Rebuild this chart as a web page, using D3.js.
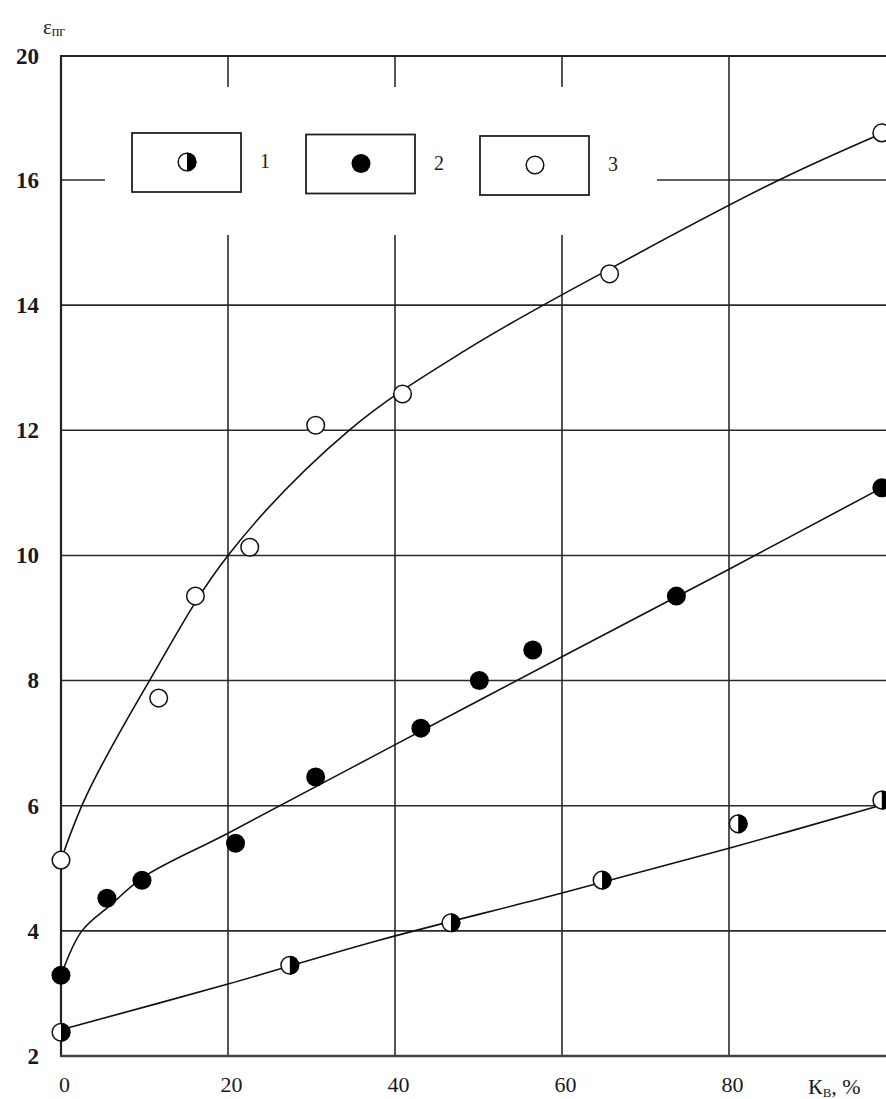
<!DOCTYPE html>
<html>
<head>
<meta charset="utf-8">
<script src="https://cdn.jsdelivr.net/npm/d3@7"></script>
<style>
  body { margin: 0; background: #fff; }
  text { font-family: "Liberation Serif", "Times New Roman", serif; fill: #1a1a1a; }
</style>
</head>
<body>
<script>
// measured points: K_B (%) and eps
var kv1 = [0, 27.4, 46.7, 64.8, 81.1, 98.3];
var eps1 = [2.38, 3.45, 4.13, 4.81, 5.71, 6.09];
var kv2 = [0, 5.5, 9.7, 20.9, 30.5, 43.1, 50.1, 56.5, 73.7, 98.3];
var eps2 = [3.29, 4.52, 4.81, 5.40, 6.46, 7.24, 8.00, 8.49, 9.35, 11.08];
var kv3 = [0, 11.7, 16.1, 22.6, 30.5, 40.9, 65.7, 98.3];
var eps3 = [5.13, 7.72, 9.35, 10.13, 12.08, 12.58, 14.50, 17.52];

// fitted curves
var fit1x = [0, 20, 38.1, 59.9, 80, 98.3];
var fit1y = [2.42, 3.15, 3.85, 4.60, 5.32, 6.01];
var fit2x = [0, 2.5, 6, 10, 20, 38.1, 60, 80, 98.3];
var fit2y = [3.29, 4.0, 4.42, 4.87, 5.56, 6.84, 8.38, 9.78, 11.08];
var fit3x = [0, 3, 10.6, 20, 34.5, 48.7, 66, 86, 98.3];
var fit3y = [5.13, 6.15, 8.0, 10.0, 12.0, 13.3, 14.6, 16.0, 17.5];

var xTicks = [0, 20, 40, 60, 80];
var yTicks = [2, 4, 6, 8, 10, 12, 14, 16, 20];
var legendLabels = ["1", "2", "3"];
var legendKinds = ["half", "full", "open"];

var W = 886, H = 1099;
var svg = d3.select('body').append('svg')
  .attr('width', W)
  .attr('height', H);

svg.append('rect').attr('width', W).attr('height', H).attr('fill', '#fff');

var x = d3.scaleLinear().domain([0, 100]).range([61, 896]);
// the top line carries "20" although it sits one step above 16
var y = d3.scaleLinear().domain([2, 16, 20]).range([1056, 180, 56]);

var grid = svg.append('g').attr('stroke', '#2a2a2a').attr('stroke-width', 1.6);

// horizontal grid
grid.selectAll('.hg')
  .data(yTicks.filter(function(d){ return d > 2 && d < 20; }))
  .enter().append('line')
  .attr('x1', x(0)).attr('x2', W)
  .attr('y1', function(d){ return y(d); })
  .attr('y2', function(d){ return y(d); });

// vertical grid
grid.selectAll('.vg')
  .data(xTicks.filter(function(d){ return d > 0; }))
  .enter().append('line')
  .attr('x1', function(d){ return x(d); })
  .attr('x2', function(d){ return x(d); })
  .attr('y1', y(20)).attr('y2', y(2));

// clear space around the legend
svg.append('rect')
  .attr('x', 105).attr('y', 87)
  .attr('width', 552).attr('height', 148)
  .attr('fill', '#fff');

// frame: left, top, bottom
var frame = svg.append('g').attr('stroke', '#222').attr('stroke-width', 2.2);
frame.append('line').attr('x1', x(0)).attr('x2', x(0)).attr('y1', y(20) - 1).attr('y2', y(2) + 1);
frame.append('line').attr('x1', x(0)).attr('x2', W).attr('y1', y(20)).attr('y2', y(20));
frame.append('line').attr('x1', x(0)).attr('x2', W).attr('y1', y(2)).attr('y2', y(2))
  .attr('stroke', '#444').attr('stroke-width', 2.6);

// tick labels
var yAxis = svg.append('g')
  .attr('transform', 'translate(39,0)')
  .call(d3.axisLeft(y).tickValues(yTicks).tickSize(0).tickPadding(0).tickFormat(d3.format('d')));
yAxis.select('.domain').remove();
yAxis.selectAll('text')
  .style('font-family', '"Liberation Serif", serif')
  .style('font-size', '23px')
  .style('font-weight', 'bold')
  .attr('fill', '#222');

var xAxis = svg.append('g')
  .attr('transform', 'translate(3,' + (y(2) + 20) + ')')
  .call(d3.axisBottom(x).tickValues(xTicks).tickSize(0).tickPadding(0).tickFormat(d3.format('d')));
xAxis.select('.domain').remove();
xAxis.selectAll('text')
  .style('font-family', '"Liberation Serif", serif')
  .style('font-size', '22px')
  .attr('fill', '#222');

// axis titles
var yt = svg.append('text').attr('x', 43).attr('y', 34).style('font-size', '21px');
yt.append('tspan').text('ε');
yt.append('tspan').attr('dy', 2).style('font-size', '14px').text('пг');

var xt = svg.append('text').attr('x', 808).attr('y', 1094).style('font-size', '22px');
xt.append('tspan').text('К');
xt.append('tspan').attr('dy', 3).style('font-size', '13px').text('В');
xt.append('tspan').attr('dy', -3).text(', %');

// fitted curves
var line = d3.line()
  .x(function(d){ return x(d[0]); })
  .y(function(d){ return y(d[1]); })
  .curve(d3.curveCatmullRom.alpha(0.5));

[[fit1x, fit1y], [fit2x, fit2y], [fit3x, fit3y]].forEach(function(f){
  svg.append('path')
    .datum(d3.zip(f[0], f[1]))
    .attr('d', line)
    .attr('fill', 'none')
    .attr('stroke', '#111')
    .attr('stroke-width', 1.6);
});

// markers
var R = 9.5;
var halfArc = d3.arc().innerRadius(0).outerRadius(R).startAngle(0).endAngle(Math.PI);

function marker(g, kind){
  if (kind === 'full') {
    g.append('circle').attr('r', R).attr('fill', '#000');
  } else {
    g.append('circle').attr('r', R - 0.7).attr('fill', '#fff')
      .attr('stroke', '#111').attr('stroke-width', 1.5);
    if (kind === 'half') {
      g.append('path').attr('d', halfArc).attr('fill', '#000');
    }
  }
}

[[kv1, eps1, 'half'], [kv2, eps2, 'full'], [kv3, eps3, 'open']].forEach(function(s){
  svg.append('g').selectAll('g')
    .data(d3.zip(s[0], s[1]))
    .enter().append('g')
    .attr('transform', function(d){ return 'translate(' + x(d[0]) + ',' + y(d[1]) + ')'; })
    .each(function(){ marker(d3.select(this), s[2]); });
});

// legend
var lg = svg.append('g').selectAll('g')
  .data(legendLabels)
  .enter().append('g')
  .attr('transform', function(d, i){ return 'translate(' + (132 + i * 174) + ',' + (133 + i * 1.5) + ')'; });

lg.append('rect')
  .attr('width', 109).attr('height', 59)
  .attr('fill', '#fff').attr('stroke', '#222').attr('stroke-width', 1.8);

lg.append('g')
  .attr('transform', 'translate(55,29)')
  .each(function(d, i){ marker(d3.select(this), legendKinds[i]); });

lg.append('text')
  .attr('x', 133).attr('y', 35)
  .attr('text-anchor', 'middle')
  .style('font-size', '20px')
  .text(function(d){ return d; });
</script>
</body>
</html>
